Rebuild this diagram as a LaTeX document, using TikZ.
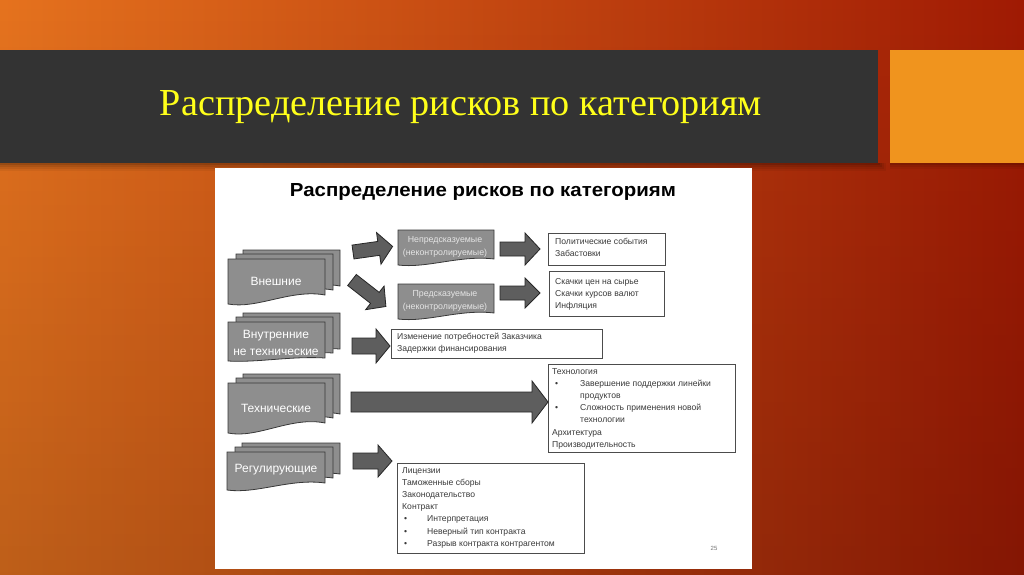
\documentclass[tikz,border=0pt]{standalone}
\usepackage{fontspec}
\usepackage{graphicx}
\usetikzlibrary{fadings}
\setmainfont{Liberation Sans}
\newfontfamily\titleserif{Liberation Serif}
\definecolor{bgL}{HTML}{E7741F}
\definecolor{bgM}{HTML}{CC4A12}
\definecolor{bgR}{HTML}{A01A04}
\definecolor{band}{HTML}{333333}
\definecolor{sq}{HTML}{F0941E}
\definecolor{ttl}{HTML}{FFFF1A}
\definecolor{docfill}{HTML}{8E8E8E}
\definecolor{docline}{HTML}{383838}
\definecolor{arrfill}{HTML}{5E5E5E}
\definecolor{txtc}{HTML}{3A3A3A}
% x, y, w, h, wave amplitude, style
\newcommand\wavebox[6]{%
  \path[#6] (#1,#2) -- ({#1+#3},#2) -- ({#1+#3},{#2+#4-#5})
    .. controls ({#1+0.65*#3},{#2+#4-1.7*#5}) and ({#1+0.3*#3},{#2+#4+0.6*#5}) .. (#1,{#2+#4}) -- cycle;}
\newcommand\docstack[5]{%
  \wavebox{#1+15}{#2-9}{#3}{#4}{#5}{docshape}
  \wavebox{#1+8}{#2-5}{#3}{#4}{#5}{docshape}
  \wavebox{#1}{#2}{#3}{#4}{#5}{docshape}}
% block arrow: tail x, tip x, centre y, body half, head half, head length
\newcommand\harrow[6]{%
  \path[blockarr] (#1,{#3-#4}) -- ({#2-#6},{#3-#4}) -- ({#2-#6},{#3-#5}) -- (#2,#3)
    -- ({#2-#6},{#3+#5}) -- ({#2-#6},{#3+#4}) -- (#1,{#3+#4}) -- cycle;}
\begin{document}
\begin{tikzpicture}[x=1pt,y=-1pt,
  docshape/.style={fill=docfill,draw=docline,line width=0.8pt},
  blockarr/.style={fill=arrfill,draw=black!85,line width=0.8pt},
  wbox/.style={draw=black!70,line width=0.9pt,fill=white},
  txt/.style={inner sep=0pt,anchor=north west,align=left,text=txtc,font=\fontsize{8.6}{12.2}\selectfont},
  gtxt/.style={inner sep=0pt,align=center,text=white!90!black,font=\fontsize{8.8}{13}\selectfont},
  doclabel/.style={inner sep=0pt,align=center,text=white,font=\fontsize{12}{17}\selectfont}]
\useasboundingbox (0,0) rectangle (1024,574);
% background
\shade[left color=bgL,middle color=bgM,right color=bgR] (-10,-10) rectangle (1034,584);
\fill[black,opacity=0.18,path fading=north] (-10,-10) rectangle (1034,590);
% band shadow
\foreach \d/\o in {8/0.05,6/0.07,4/0.09,2/0.12}{\fill[black,opacity=\o] (0,163) rectangle (878+\d,163+\d);}
\foreach \d/\o in {6/0.05,4/0.07,2/0.1}{\fill[black,opacity=\o] (890,163) rectangle (1024,163+\d);}
\fill[band] (-5,50) rectangle (878,163);
\fill[sq] (890,50) rectangle (1030,163);
\node[inner sep=0pt,text=ttl] (title) at (461,107) {\resizebox{602pt}{25pt}{\titleserif Распределение рисков по категориям}};
% panel
\fill[white] (215,168) rectangle (752,569);
\node[inner sep=0pt] (subtitle) at (483,192) {\resizebox{386pt}{13pt}{\bfseries Распределение рисков по категориям}};
% left stacks
\docstack{228}{259}{97}{45}{9}
\node[doclabel] (vn) at (276,281) {Внешние};
\docstack{228}{322}{97}{39}{3}
\node[doclabel] (vnt) at (276,343) {Внутренние\\не технические};
\docstack{228}{383}{97}{50}{10}
\node[doclabel] (teh) at (276,408) {Технические};
\docstack{227}{452}{98}{38}{7}
\node[doclabel] (reg) at (276,470) {Регулирующие};
% middle grey boxes
\wavebox{398}{230}{96}{35}{6}{docshape}
\node[gtxt] (unpred) at (445,247) {Непредсказуемые\\(неконтролируемые)};
\wavebox{398}{284}{96}{35}{6}{docshape}
\node[gtxt] (pred) at (445,301) {Предсказуемые\\(неконтролируемые)};
% white boxes
\path[wbox] (548,233) rectangle (665,265);
\node[txt] (pol) at (555,238) {Политические события\\Забастовки};
\path[wbox] (549,271) rectangle (664,316);
\node[txt] (sk) at (555,278) {Скачки цен на сырье\\Скачки курсов валют\\Инфляция};
\path[wbox] (391,329) rectangle (602,358);
\node[txt] (izm) at (397,333) {Изменение потребностей Заказчика\\Задержки финансирования};
\path[wbox] (548,364) rectangle (735,452);
\node[txt] (tech) at (552,368) {Технология\\
\hspace*{3pt}\makebox[25pt][l]{•}Завершение поддержки линейки\\
\hspace*{28pt}продуктов\\
\hspace*{3pt}\makebox[25pt][l]{•}Сложность применения новой\\
\hspace*{28pt}технологии\\
Архитектура\\
Производительность};
\path[wbox] (397,463) rectangle (584,553);
\node[txt] (lic) at (402,467) {Лицензии\\
Таможенные сборы\\
Законодательство\\
Контракт\\
\hspace*{2pt}\makebox[23pt][l]{•}Интерпретация\\
\hspace*{2pt}\makebox[23pt][l]{•}Неверный тип контракта\\
\hspace*{2pt}\makebox[23pt][l]{•}Разрыв контракта контрагентом};
% block arrows
\begin{scope}[rotate around={8:(353,252)}]
\harrow{353}{393}{252}{7}{16}{14}
\end{scope}
\begin{scope}[rotate around={-38:(352,280)}]
\harrow{352}{395}{280}{7}{15}{14}
\end{scope}
\harrow{500}{540}{249}{7}{16}{15}
\harrow{500}{540}{293}{7}{15}{15}
\harrow{352}{390}{346}{8}{17}{14}
\harrow{351}{548}{402}{10}{21}{16}
\harrow{353}{392}{461}{8}{16}{14}
\node[inner sep=0pt,text=black!55,font=\fontsize{6}{7}\selectfont] (pg) at (714,548) {25};
\end{tikzpicture}
\end{document}
